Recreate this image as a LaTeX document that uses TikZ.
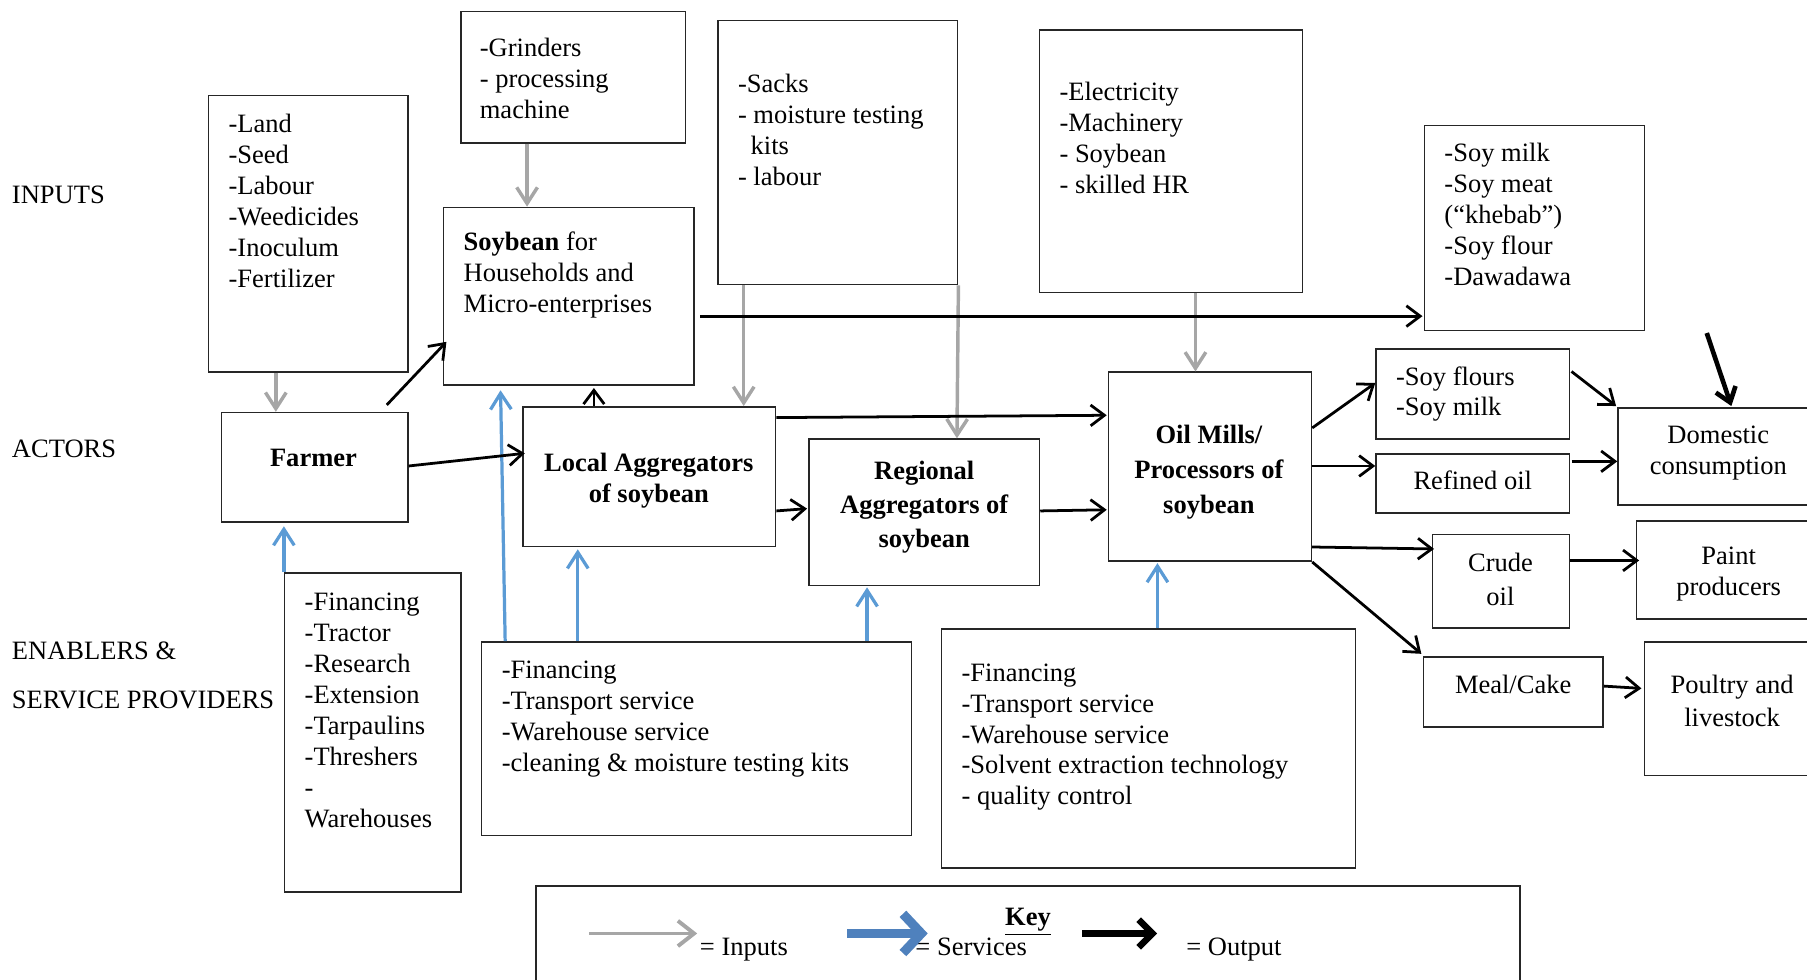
\documentclass[tikz,border=0pt]{standalone}
\usepackage{fontspec}
\setmainfont{Liberation Serif}
\usetikzlibrary{arrows.meta,calc,fit}
\definecolor{ingray}{HTML}{A6A6A6}
\definecolor{svblue}{HTML}{5B9BD5}
\definecolor{keyblue}{HTML}{4F81BD}
\newcommand\fs{\fontsize{11.5}{13.4}\selectfont}
\newcommand\mkbox[5]{\node[box, fit={(#2,#3) (#4,#5)}] (#1) {};}
\begin{document}
\begin{tikzpicture}[x=0.5pt,y=-0.5pt,
  box/.style={draw=black!85, line width=0.65pt, inner sep=0pt},
  txt/.style={anchor=north west, inner sep=0pt, align=left, font=\fs},
  ctxt/.style={anchor=north, inner sep=0pt, align=center, font=\fs\bfseries},
  ntxt/.style={anchor=north, inner sep=0pt, align=center, font=\fs},
  inarrow/.style={draw=ingray, line width=1.5pt, -{Straight Barb[length=7pt,width=9pt]}},
  svarrow/.style={draw=svblue, line width=1.4pt, -{Straight Barb[length=7pt,width=9pt]}},
  outarrow/.style={draw=black, line width=1.2pt, -{Straight Barb[length=6pt,width=9pt]}},
]
\useasboundingbox (0,0) rectangle (1568,850);

% boxes
\mkbox{land}{181}{83}{354}{323}
\mkbox{grind}{400}{10}{595}{124}
\mkbox{soyhh}{385}{180}{602}{334}
\mkbox{farmer}{192}{358}{354}{453}
\mkbox{local}{454}{353}{673}{474}
\mkbox{sacks}{623}{18}{831}{247}
\mkbox{regional}{702}{381}{902}{508}
\mkbox{elec}{902}{26}{1130}{254}
\mkbox{oil}{962}{323}{1138}{487}
\mkbox{soymilk}{1236}{109}{1427}{287}
\mkbox{soyfl}{1194}{303}{1362}{381}
\mkbox{refined}{1194}{394}{1362}{445}
\mkbox{domestic}{1404}{354}{1580}{438}
\mkbox{crude}{1243}{464}{1362}{545}
\mkbox{paint}{1420}{452}{1580}{537}
\mkbox{meal}{1235}{570}{1391}{631}
\mkbox{poultry}{1427}{557}{1580}{673}
\mkbox{servA}{247}{497}{400}{774}
\mkbox{servB}{418}{557}{791}{725}
\mkbox{servC}{817}{546}{1176}{753}
\mkbox{legend}{465}{769}{1319}{880}

% row labels
\node[txt] (lblin) at (10,157) {\strut INPUTS};
\node[txt] (lblact) at (10,378) {\strut ACTORS};
\node[txt] (lblen1) at (10,553) {\strut ENABLERS \&};
\node[txt] (lblen2) at (10,596) {\strut SERVICE PROVIDERS};

% texts
\node[txt] (tland) at (198,96) {\strut -Land\\-Seed\\-Labour\\-Weedicides\\-Inoculum\\-Fertilizer};
\node[txt] (tgrind) at (416,30) {\strut -Grinders\\- processing\\machine};
\node[txt] (tsoyhh) at (402,198) {\strut \textbf{Soybean} for\\Households and\\Micro-enterprises};
\node[ctxt] (tfarmer) at (272,386) {\strut Farmer};
\node[ctxt] (tlocal) at (563,390) {\strut Local Aggregators\\of soybean};
\node[txt] (tsacks) at (640,61) {\strut -Sacks\\- moisture testing\\\hspace{5.5pt}kits\\- labour};
\node[ctxt] (tregional) at (802,397) {\strut Regional\\[1.3pt]Aggregators of\\[1.3pt]soybean};
\node[txt] (telec) at (919,68) {\strut -Electricity\\-Machinery\\- Soybean\\- skilled HR};
\node[txt] (tsoymilk) at (1253,121) {\strut -Soy milk\\-Soy meat\\(“khebab”)\\-Soy flour\\-Dawadawa};
\node[ctxt] (toil) at (1049,366) {\strut Oil Mills/\\[1.6pt]Processors of\\[1.6pt]soybean};
\node[txt] (tsoyfl) at (1211,315) {\strut -Soy flours\\-Soy milk};
\node[ntxt] (trefined) at (1278,406) {\strut Refined oil};
\node[ntxt] (tdomestic) at (1491,366) {\strut Domestic\\consumption};
\node[ntxt] (tcrude) at (1302,477) {\strut Crude\\[1.1pt]oil};
\node[ntxt] (tpaint) at (1500,471) {\strut Paint\\producers};
\node[ntxt] (tmeal) at (1313,583) {\strut Meal/Cake};
\node[ntxt] (tpoultry) at (1503,583) {\strut Poultry and\\[0.6pt]livestock};
\node[txt] (tservA) at (264,511) {\strut -Financing\\-Tractor\\-Research\\-Extension\\-Tarpaulins\\-Threshers\\-\\Warehouses};
\node[txt] (tservB) at (435,570) {\strut -Financing\\-Transport service\\-Warehouse service\\-cleaning \& moisture testing kits};
\node[txt] (tservC) at (834,572) {\strut -Financing\\-Transport service\\-Warehouse service\\-Solvent extraction technology\\- quality control};

% legend
\node[ctxt] (tkey) at (892,784) {\strut\underline{Key}};
\node[txt] (tkin) at (607,810) {\strut = Inputs};
\node[txt] (tksv) at (794,810) {\strut = Services};
\node[txt] (tkout) at (1029,810) {\strut = Output};
\coordinate (kin1) at (511,810); \coordinate (kin2) at (605,810);
\coordinate (ksv1) at (735,810); \coordinate (ksv2) at (805,810);
\coordinate (kout1) at (939,810); \coordinate (kout2) at (1004,810);
\draw[draw=ingray, line width=1.7pt, -{Straight Barb[length=7pt,width=11pt]}] (kin1) -- (kin2);
\draw[draw=keyblue, line width=4pt, -{Straight Barb[length=8pt,width=17pt]}] (ksv1) -- (ksv2);
\draw[draw=black, line width=2.8pt, -{Straight Barb[length=6pt,width=12pt]}] (kout1) -- (kout2);

% input arrows
\draw[inarrow] ($(land.south west)+(59,0)$) -- ($(farmer.north west)+(48,0)$);
\draw[inarrow] ($(grind.south west)+(58,0)$) -- ($(soyhh.north west)+(73,0)$);
\draw[inarrow] ($(sacks.south west)+(23,0)$) -- ($(local.north west)+(192,0)$);
\draw[inarrow] (sacks.south east) -- ($(regional.north west)+(129,0)$);
\draw[inarrow] ($(elec.south west)+(136,0)$) -- ($(oil.north west)+(76,0)$);

% service arrows
\draw[svarrow] (servA.north west) -- ($(farmer.south west)+(55,3)$);
\draw[svarrow] ($(servB.north west)+(21,0)$) -- ($(soyhh.south west)+(50,4)$);
\draw[svarrow] ($(servB.north west)+(84,0)$) -- ($(local.south west)+(48,2)$);
\draw[svarrow] ($(servB.north west)+(335,0)$) -- ($(regional.south west)+(51,1)$);
\draw[svarrow] ($(servC.north west)+(188,0)$) -- ($(oil.south west)+(43,1)$);

% output arrows
\draw[outarrow] ($(farmer.north east)+(-19,-6)$) -- ($(soyhh.south west)+(3,-38)$);
\draw[outarrow] ($(farmer.north east)+(0,47)$) -- ($(local.north west)+(2,41)$);
\draw[outarrow] ($(local.north west)+(62,0)$) -- ($(soyhh.south west)+(131,2)$);
\draw[outarrow] ($(soyhh.north east)+(5,95)$) -- ($(soymilk.north west)+(-1,166)$);
\draw[outarrow] ($(local.north east)+(0,10)$) -- ($(oil.north west)+(-1,38)$);
\draw[outarrow] ($(local.north east)+(0,91)$) -- ($(regional.north west)+(-1,61)$);
\draw[outarrow] ($(regional.north east)+(0,63)$) -- ($(oil.north west)+(-1,120)$);
\draw[outarrow] ($(oil.north east)+(0,49)$) -- ($(soyfl.north west)+(0,30)$);
\draw[outarrow] ($(oil.north east)+(0,82)$) -- ($(refined.north west)+(0,11)$);
\draw[outarrow] ($(soyfl.north east)+(1,20)$) -- ($(domestic.north west)+(-1,-1)$);
\draw[outarrow] ($(refined.north east)+(1,7)$) -- ($(domestic.north west)+(0,47)$);
\coordinate (domin) at (1481,289);
\draw[draw=black, line width=2pt, -{Straight Barb[length=6pt,width=9pt]}] (domin) -- ($(domestic.north west)+(99,-1)$);
\draw[outarrow] ($(oil.south east)+(0,-13)$) -- ($(crude.north west)+(2,13)$);
\draw[outarrow] ($(crude.north east)+(0,23)$) -- ($(paint.north west)+(3,35)$);
\draw[outarrow] (oil.south east) -- ($(meal.north west)+(-1,-2)$);
\draw[outarrow] ($(meal.north east)+(0,26)$) -- ($(poultry.north west)+(-2,41)$);
\end{tikzpicture}
\end{document}
